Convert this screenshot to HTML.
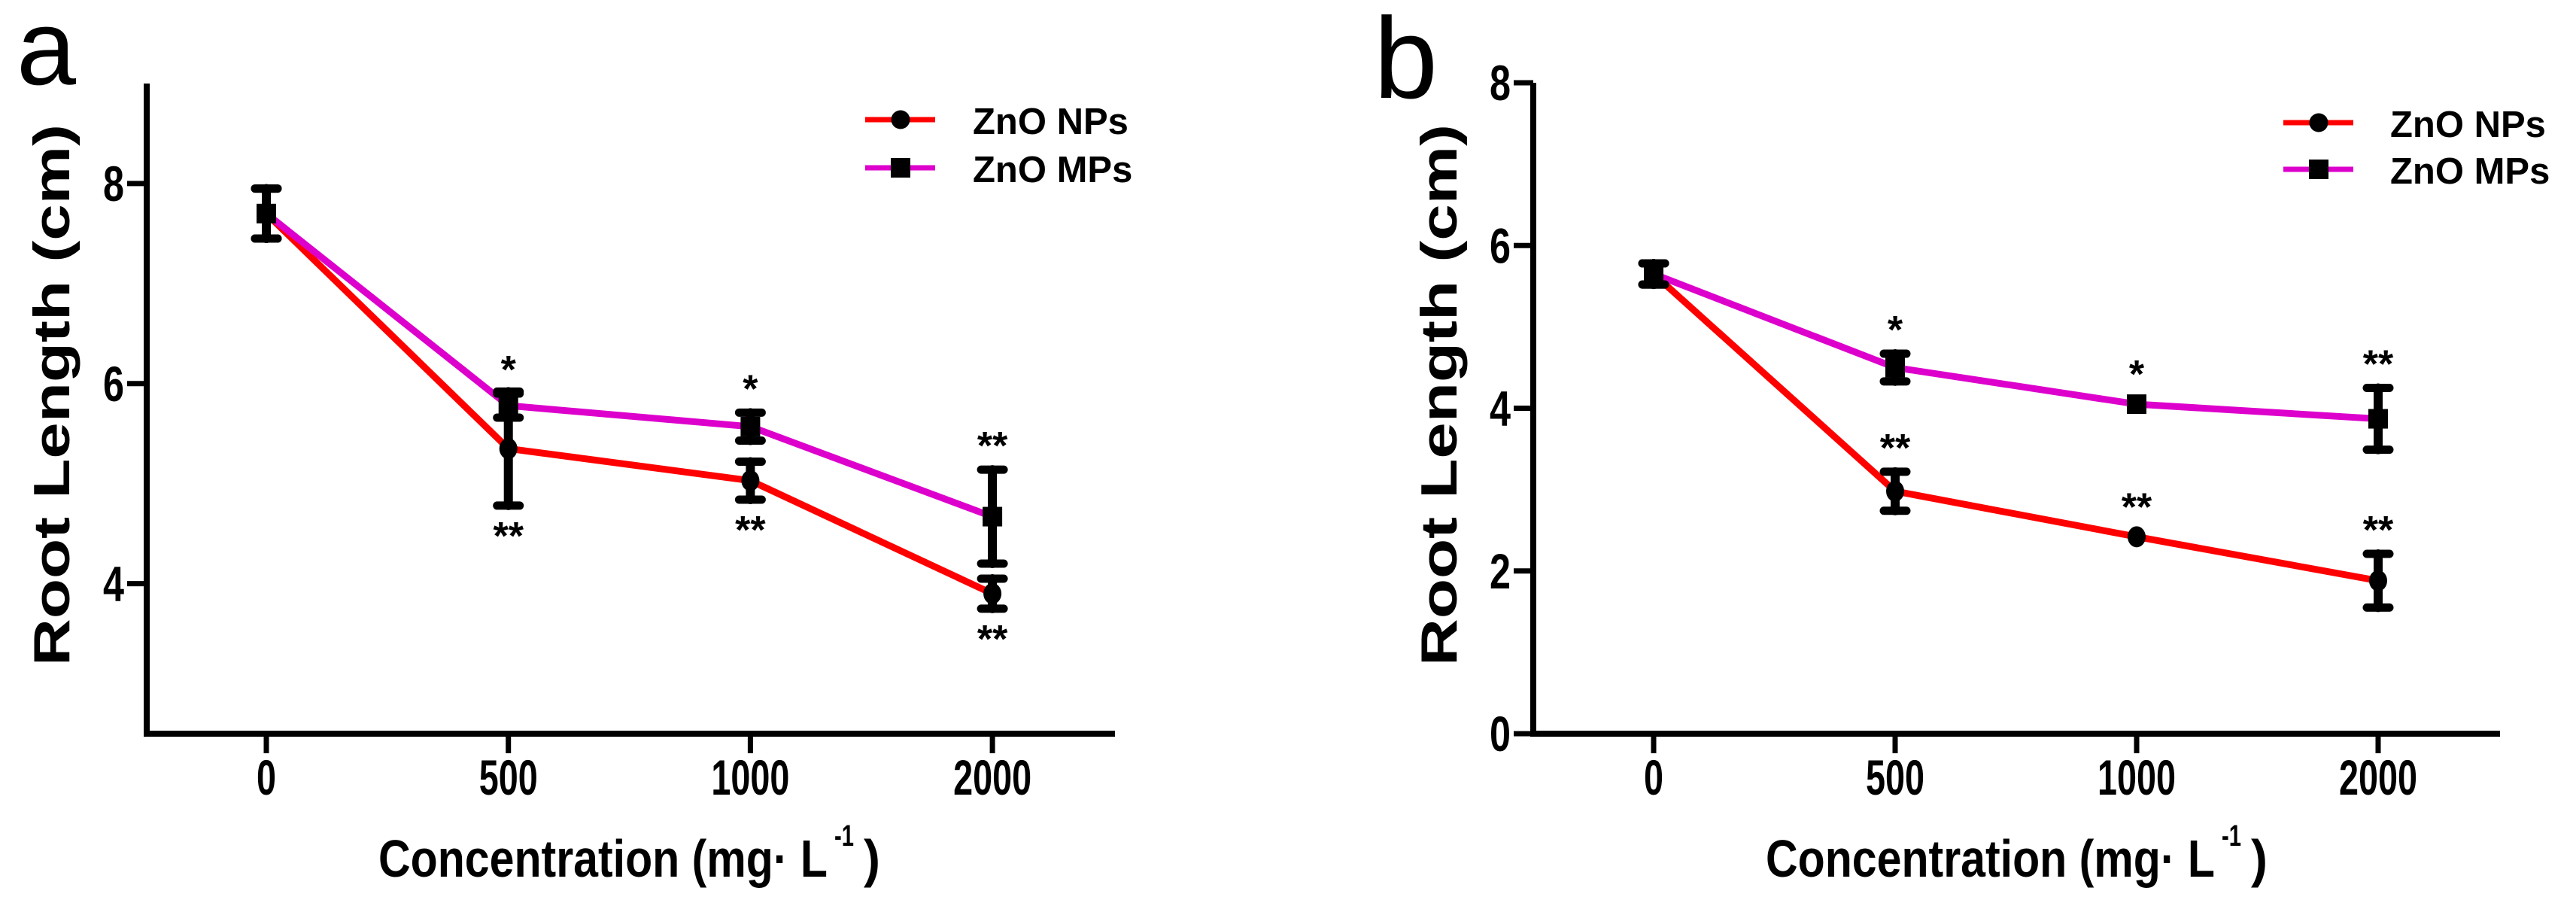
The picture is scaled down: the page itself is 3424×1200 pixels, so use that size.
<!DOCTYPE html>
<html><head><meta charset="utf-8"><style>
html,body{margin:0;padding:0;background:#fff;}
svg{display:block;font-family:"Liberation Sans",Arial,sans-serif;}
</style></head><body>
<svg id="chart" width="3424" height="1200" viewBox="0 0 3424 1200" xmlns="http://www.w3.org/2000/svg">
<text x="22" y="112" font-size="142">a</text>
<text x="1826" y="130" font-size="153">b</text>
</svg>
<script>
const categories = ["0", "500", "1000", "2000"];
// Panel a
const aNPs = [7.70, 5.35, 5.03, 3.90];
const aNPsErr = [0.25, 0.57, 0.19, 0.15];
const aMPs = [7.70, 5.78, 5.57, 4.67];
const aMPsErr = [0.25, 0.12, 0.14, 0.47];
const aYTicks = [4, 6, 8];
const aNPsStars = ["", "**", "**", "**"];
const aMPsStars = ["", "*", "*", "**"];
// Panel b
const bNPs = [5.65, 2.98, 2.42, 1.88];
const bNPsErr = [0.13, 0.24, 0, 0.33];
const bMPs = [5.65, 4.50, 4.05, 3.87];
const bMPsErr = [0.13, 0.17, 0, 0.38];
const bYTicks = [0, 2, 4, 6, 8];
const bNPsStars = ["", "**", "**", "**"];
const bMPsStars = ["", "*", "*", "**"];

const NS = "http://www.w3.org/2000/svg";
const svg = document.getElementById('chart');
function mk(tag, attrs, parent, txt) {
  const e = document.createElementNS(NS, tag);
  for (const k in attrs) e.setAttribute(k, attrs[k]);
  if (txt !== undefined) e.textContent = txt;
  (parent || svg).appendChild(e);
  return e;
}

function panel(p) {
  const g = mk('g', {});
  
  
  const yS = v => p.bottom - (v - p.ymin) / (p.ymax - p.ymin) * (p.bottom - p.top);
  const xS = i => p.x0 + i * p.step;
  const ya = mk('line', {x1: p.ax, y1: p.top, x2: p.ax, y2: p.bottom + 4, stroke: '#000', 'stroke-width': 8}, g);
  
  
  const xa = mk('line', {x1: p.ax - 4, y1: p.bottom, x2: p.axEnd, y2: p.bottom, stroke: '#000', 'stroke-width': 8}, g);
  
  
  p.yticks.forEach(v => {
    const y = yS(v);
    const t = mk('line', {x1: p.ax - 26, y1: y, x2: p.ax, y2: y, stroke: '#000', 'stroke-width': 7}, g);
    
    
    const s = String(v);
    const l = mk('text', {x: p.ax - 30, y: y + 23, 'font-size': 66, 'font-weight': 'bold', 'text-anchor': 'end',
      textLength: 28 * s.length, lengthAdjust: 'spacingAndGlyphs'}, g, s);
    
    
  });
  categories.forEach((c, i) => {
    const x = xS(i);
    const t = mk('line', {x1: x, y1: p.bottom, x2: x, y2: p.bottom + 26, stroke: '#000', 'stroke-width': 7}, g);
    
    
    const l = mk('text', {x: x, y: 1056, 'font-size': 66, 'font-weight': 'bold', 'text-anchor': 'middle',
      textLength: 26 * c.length, lengthAdjust: 'spacingAndGlyphs'}, g, c);
    
    
  });
  const yt = mk('text', {x: 0, y: 0, 'font-size': 68, 'font-weight': 'bold', 'text-anchor': 'middle',
    textLength: 720, lengthAdjust: 'spacingAndGlyphs',
    transform: `translate(${p.ytX},525) rotate(-90)`}, g, 'Root Length (cm)');
  
  
  const xt = mk('text', {x: p.xtX, y: 1165, 'font-size': 70, 'font-weight': 'bold', textLength: 597, lengthAdjust: 'spacingAndGlyphs'}, g, 'Concentration (mg·  L');
  
  
  const sup = mk('text', {x: p.xtX + 606, y: 1124, 'font-size': 40, 'font-weight': 'bold', textLength: 26, lengthAdjust: 'spacingAndGlyphs'}, g, '-1');
  
  
  const par = mk('text', {x: p.xtX + 645, y: 1165, 'font-size': 70, 'font-weight': 'bold', textLength: 22, lengthAdjust: 'spacingAndGlyphs'}, g, ')');
  
  

  const series = [
    {name: 'nps', vals: p.nps, err: p.npsErr, stars: p.npsStars, color: '#ff0000', marker: 'circle', starPos: p.npsStarPos},
    {name: 'mps', vals: p.mps, err: p.mpsErr, stars: p.mpsStars, color: '#dd00cc', marker: 'square', starPos: 'above'}
  ];
  series.forEach(s => {
    const pts = s.vals.map((v, i) => `${xS(i)},${yS(v)}`).join(' ');
    const pl = mk('polyline', {points: pts, fill: 'none', stroke: s.color, 'stroke-width': 9, 'stroke-linejoin': 'round'}, g);
    
    
  });
  series.forEach(s => {
    s.vals.forEach((v, i) => {
      const x = xS(i), e = s.err[i];
      if (e > 0) {
        const eg = mk('g', {stroke: '#000', 'stroke-linecap': 'round'}, g);
        
        
        mk('line', {x1: x, y1: yS(v + e), x2: x, y2: yS(v - e), 'stroke-width': 12}, eg);
        mk('line', {x1: x - 15, y1: yS(v + e), x2: x + 15, y2: yS(v + e), 'stroke-width': 11}, eg);
        mk('line', {x1: x - 15, y1: yS(v - e), x2: x + 15, y2: yS(v - e), 'stroke-width': 11}, eg);
      }
      let m;
      if (s.marker === 'circle') m = mk('ellipse', {cx: x, cy: yS(v), rx: 12, ry: 14, fill: '#000'}, g);
      else m = mk('rect', {x: x - 13, y: yS(v) - 13, width: 26, height: 26, fill: '#000'}, g);
      
      
      if (s.stars[i]) {
        const st = mk('text', {x: x, y: s.starPos === 'above' ? yS(v + e) - 14 - (e > 0 ? 0 : 8) : yS(v - e) + 58,
          'font-size': 52, 'font-weight': 'bold', 'text-anchor': 'middle'}, g, s.stars[i]);
        
        
      }
    });
  });
  const lg = mk('g', {}, g);
  
  
  series.forEach((s, k) => {
    const y = p.legY[k];
    const le = mk('g', {}, lg);
    
    
    mk('line', {x1: p.legX, y1: y, x2: p.legX + 93, y2: y, stroke: s.color, 'stroke-width': 7}, le);
    if (s.marker === 'circle') mk('circle', {cx: p.legX + 47, cy: y, r: 12.5, fill: '#000'}, le);
    else mk('rect', {x: p.legX + 34, y: y - 13, width: 26, height: 26, fill: '#000'}, le);
    mk('text', {x: p.legTX, y: y + 19, 'font-size': 49, 'font-weight': 'bold'}, le, k === 0 ? 'ZnO NPs' : 'ZnO MPs');
  });
}

panel({name: 'panel-a', ax: 195, axEnd: 1482, top: 111, bottom: 975, ymin: 2.5, ymax: 9, x0: 354, step: 321.7,
  yticks: aYTicks, nps: aNPs, npsErr: aNPsErr, mps: aMPs, mpsErr: aMPsErr, npsStars: aNPsStars, mpsStars: aMPsStars,
  npsStarPos: 'below', ytX: 92, xtX: 503, legX: 1150, legTX: 1293, legY: [159, 223]});
panel({name: 'panel-b', ax: 2038, axEnd: 3323, top: 110, bottom: 975, ymin: 0, ymax: 8, x0: 2198, step: 321,
  yticks: bYTicks, nps: bNPs, npsErr: bNPsErr, mps: bMPs, mpsErr: bMPsErr, npsStars: bNPsStars, mpsStars: bMPsStars,
  npsStarPos: 'above', ytX: 1936, xtX: 2347, legX: 3035, legTX: 3177, legY: [163, 225]});
</script>
</body></html>
